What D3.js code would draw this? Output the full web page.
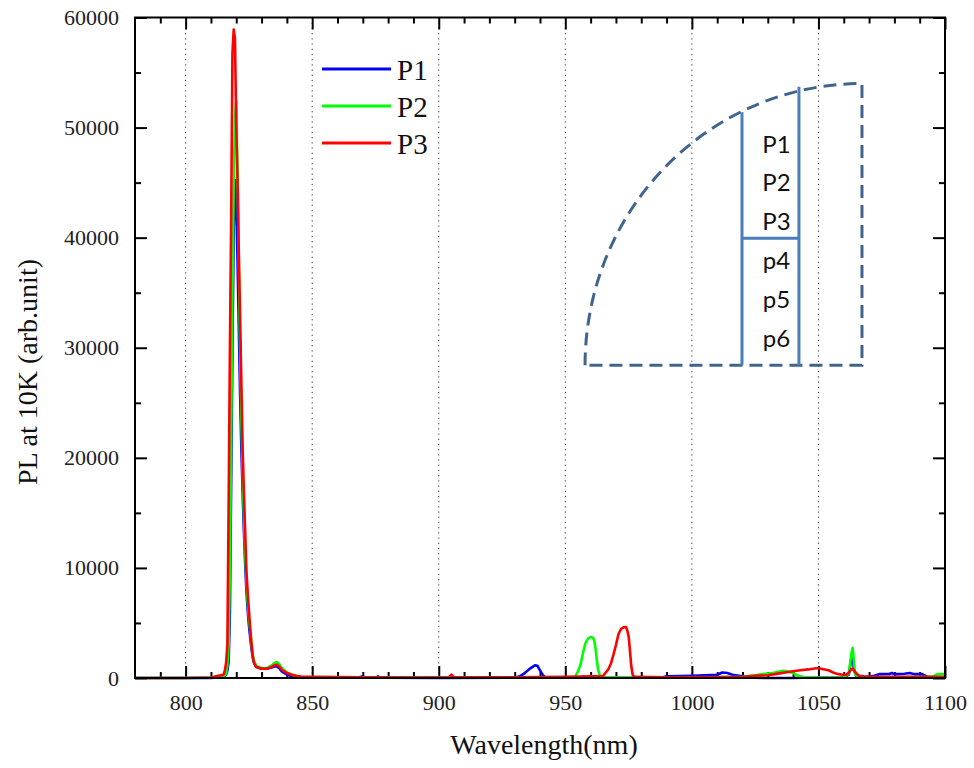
<!DOCTYPE html>
<html>
<head>
<meta charset="utf-8">
<script src="https://cdn.jsdelivr.net/npm/d3@7"></script>
<style>
  body { margin: 0; background: #fff; }
  svg { display: block; }
  .tick text { font-family: "Liberation Serif", "Times New Roman", serif; font-size: 22px; fill: #222; }
  .tick line { stroke: #000; stroke-width: 2; }
</style>
</head>
<body>
<svg width="974" height="768"></svg>
<script>
// spectra, [wavelength (nm), PL intensity]
var p1 = [[780,0],[800,0],[810,10],[813,40],[815,100],[816,300],[816.5,700],[817,1500],[817.5,6000],[818,18000],
  [818.5,30000],[819,41000],[819.5,45200],[820,43000],[820.5,38000],[821,32000],[821.5,26000],[822,21000],
  [822.5,17000],[823,13500],[823.5,10500],[824,8000],[824.5,6200],[825,4800],[825.5,3700],[826,2700],[826.5,1900],
  [827,1400],[828,1000],[830,850],[832,850],[834,950],[835,1050],[836,1050],[837,900],[838,600],[840,300],[842,150],
  [844,50],[850,20],[868,20],[870,150],[871,20],[875,20],[876,150],[877,20],[900,10],[930,20],[932,150],[934,450],
  [936,850],[938,1150],[939,1100],[940,700],[941,300],[942,50],[950,20],[988,20],[990,150],[1000,200],[1005,250],
  [1010,300],[1012,500],[1014,450],[1016,300],[1020,150],[1024,20],[1030,0],[1040,0],[1044,20],[1050,30],[1060,60],
  [1062,300],[1063,1800],[1063.5,2100],[1064,800],[1065,100],[1068,60],[1072,200],[1074,350],[1078,360],[1079,450],
  [1080,350],[1084,380],[1086,450],[1088,350],[1091,350],[1093,100],[1096,50],[1100,50]];

var p2 = [[780,0],[800,0],[810,20],[813,50],[815,100],[816,400],[816.5,1200],[817,3000],[817.5,10000],[818,22000],
  [818.5,35000],[819,45000],[819.5,51000],[820,52400],[820.5,46000],[821,38000],[821.5,30000],[822,24000],
  [822.5,19000],[823,15000],[823.5,11500],[824,9000],[824.5,7000],[825,5500],[825.5,4300],[826,3200],[826.5,2200],
  [827,1500],[828,1100],[830,900],[832,900],[834,1150],[835,1350],[836,1450],[837,1250],[838,900],[840,500],
  [842,300],[844,150],[846,60],[850,30],[900,20],[950,30],[953,40],[954,150],[955,600],[956,1200],[957,2300],
  [958,3200],[959,3600],[960,3720],[961,3650],[961.5,3300],[962,2600],[962.5,1500],[963,700],[963.7,150],[965,30],
  [1000,30],[1020,100],[1025,250],[1028,350],[1032,450],[1036,650],[1038,600],[1040,450],[1042,200],[1044,80],
  [1050,50],[1060,60],[1062,400],[1063,2200],[1063.5,2750],[1064,1500],[1064.5,300],[1066,60],[1080,50],[1095,100],
  [1097,350],[1100,360]];

var p3 = [[780,0],[800,0],[810,50],[812,150],[814,250],[815,300],[815.5,700],[816,1400],[816.5,3000],[817,16000],
  [817.5,30000],[818,42000],[818.5,56800],[819,58900],[819.5,58000],[820,50000],[820.5,45200],[821,38800],
  [821.5,33000],[822,27000],[822.5,21000],[823,17000],[823.5,13500],[824,9800],[824.5,7800],[825,6200],[825.5,4500],
  [826,3200],[826.5,2000],[827,1400],[827.5,1100],[828,1000],[830,850],[832,850],[834,1000],[835,1150],[836,1200],
  [837,1050],[838,750],[840,450],[842,300],[844,180],[846,120],[850,100],[860,80],[870,60],[890,50],[904,50],
  [905,300],[906,60],[930,60],[950,100],[960,150],[964,150],[965,200],[966,500],[967,800],[968,1300],[969,2100],
  [970,3000],[971,4000],[972,4450],[973,4600],[974,4630],[974.5,4300],[975,3800],[975.5,2600],[976,1200],
  [976.6,300],[977,150],[978,100],[990,60],[1000,80],[1020,100],[1025,200],[1030,250],[1034,400],[1038,550],
  [1042,680],[1046,780],[1049,880],[1050,880],[1052,800],[1054,700],[1056,480],[1058,350],[1060,270],[1061,300],
  [1062,500],[1063,800],[1063.5,850],[1064,700],[1065,400],[1066,200],[1068,150],[1070,120],[1080,100],[1100,100]];

var seriesNames = ["P1", "P2", "P3"];
var seriesColors = ["#0000ff", "#00ff00", "#ff0000"];
var xMajorTicks = [800, 850, 900, 950, 1000, 1050, 1100];
var yMajorTicks = [0, 10000, 20000, 30000, 40000, 50000, 60000];
var insetLabels = ["P1", "P2", "P3", "p4", "p5", "p6"];

var svg = d3.select("svg");
var plotLeft = 135, plotRight = 945, plotTop = 17.5, plotBottom = 678;

var x = d3.scaleLinear().domain([780, 1100]).range([plotLeft, plotRight]);
var y = d3.scaleLinear().domain([0, 60000]).range([plotBottom, plotTop]);

// dotted vertical grid at the labelled wavelengths
svg.append("g").selectAll("line")
  .data(xMajorTicks.filter(function(d) { return d < 1100; }))
  .enter().append("line")
    .attr("x1", function(d) { return x(d); })
    .attr("x2", function(d) { return x(d); })
    .attr("y1", plotTop)
    .attr("y2", plotBottom)
    .attr("stroke", "#333")
    .attr("stroke-width", 1)
    .attr("stroke-dasharray", "1.2,4");

var xMinor = d3.range(790, 1100, 10).filter(function(d) { return d % 50 != 0; });
var yMinor = d3.range(5000, 60000, 10000);

function clean(g) { g.select(".domain").remove(); }

// bottom
svg.append("g").attr("transform", "translate(0," + plotBottom + ")")
  .call(d3.axisBottom(x).tickValues(xMajorTicks).tickSize(-12).tickPadding(16).tickFormat(d3.format("d")))
  .call(clean);
svg.append("g").attr("transform", "translate(0," + plotBottom + ")")
  .call(d3.axisBottom(x).tickValues(xMinor).tickSize(-6).tickFormat(""))
  .call(clean);
// top
svg.append("g").attr("transform", "translate(0," + plotTop + ")")
  .call(d3.axisTop(x).tickValues(xMajorTicks).tickSize(-12).tickFormat(""))
  .call(clean);
svg.append("g").attr("transform", "translate(0," + plotTop + ")")
  .call(d3.axisTop(x).tickValues(xMinor).tickSize(-6).tickFormat(""))
  .call(clean);
// left
svg.append("g").attr("transform", "translate(" + plotLeft + ",0)")
  .call(d3.axisLeft(y).tickValues(yMajorTicks).tickSize(-12).tickPadding(16).tickFormat(d3.format("d")))
  .call(clean);
svg.append("g").attr("transform", "translate(" + plotLeft + ",0)")
  .call(d3.axisLeft(y).tickValues(yMinor).tickSize(-6).tickFormat(""))
  .call(clean);
// right
svg.append("g").attr("transform", "translate(" + plotRight + ",0)")
  .call(d3.axisRight(y).tickValues(yMajorTicks).tickSize(-12).tickFormat(""))
  .call(clean);
svg.append("g").attr("transform", "translate(" + plotRight + ",0)")
  .call(d3.axisRight(y).tickValues(yMinor).tickSize(-6).tickFormat(""))
  .call(clean);

// spectra
var line = d3.line()
  .x(function(d) { return x(d[0]); })
  .y(function(d) { return y(d[1]); });

[p1, p2, p3].forEach(function(s, i) {
  svg.append("path")
    .datum(s)
    .attr("fill", "none")
    .attr("stroke", seriesColors[i])
    .attr("stroke-width", 2.6)
    .attr("stroke-linejoin", "round")
    .attr("d", line);
});

// frame
svg.append("rect")
  .attr("x", plotLeft).attr("y", plotTop)
  .attr("width", plotRight - plotLeft).attr("height", plotBottom - plotTop)
  .attr("fill", "none").attr("stroke", "#000").attr("stroke-width", 2);

// legend
var legend = svg.append("g").selectAll("g")
  .data(seriesNames)
  .enter().append("g")
    .attr("transform", function(d, i) { return "translate(322," + (69 + i * 37) + ")"; });
legend.append("line")
  .attr("x1", 0).attr("x2", 69)
  .attr("stroke", function(d, i) { return seriesColors[i]; })
  .attr("stroke-width", 3);
legend.append("text")
  .attr("x", 75).attr("y", 11)
  .attr("font-family", "Liberation Serif, Times New Roman, serif")
  .attr("font-size", 29)
  .attr("fill", "#111")
  .text(function(d) { return d; });

// inset sketch (placed in data units)
var inset = svg.append("g");
var ix0 = x(957.8), ix1 = x(1067.2), iy0 = y(28400), iy1 = y(54000);
inset.append("path")
  .attr("d", "M" + ix0 + "," + iy0 + " A" + (ix1 - ix0) + "," + (iy0 - iy1) + " 0 0 1 " + ix1 + "," + iy1 +
       " L" + ix1 + "," + iy0 + " Z")
  .attr("fill", "none")
  .attr("stroke", "#41648f")
  .attr("stroke-width", 3)
  .attr("stroke-dasharray", "13,7");

var colA = x(1019.8), colB = x(1042.3);
inset.append("path")
  .attr("d", "M" + colA + "," + y(51400) + " L" + colA + "," + iy0 +
       " M" + colB + "," + y(53700) + " L" + colB + "," + iy0 +
       " M" + colA + "," + y(39950) + " L" + colB + "," + y(39950))
  .attr("fill", "none")
  .attr("stroke", "#4a7ebb")
  .attr("stroke-width", 3);

inset.selectAll("text")
  .data(insetLabels)
  .enter().append("text")
    .attr("x", (colA + colB) / 2 + 6)
    .attr("y", function(d, i) { return 143 + i * 38.8; })
    .attr("text-anchor", "middle")
    .attr("dominant-baseline", "central")
    .attr("font-family", "Lato, Open Sans, sans-serif")
    .attr("font-size", 24)
    .attr("fill", "#111")
    .text(function(d) { return d; });

// axis titles
svg.append("text")
  .attr("transform", "translate(27,372) rotate(-90)")
  .attr("text-anchor", "middle")
  .attr("dominant-baseline", "central")
  .attr("font-family", "Liberation Serif, Times New Roman, serif")
  .attr("font-size", 28)
  .attr("fill", "#111")
  .text("PL at 10K (arb.unit)");

svg.append("text")
  .attr("x", 544).attr("y", 754)
  .attr("text-anchor", "middle")
  .attr("font-family", "Liberation Serif, Times New Roman, serif")
  .attr("font-size", 28)
  .attr("fill", "#111")
  .text("Wavelength(nm)");
</script>
</body>
</html>
